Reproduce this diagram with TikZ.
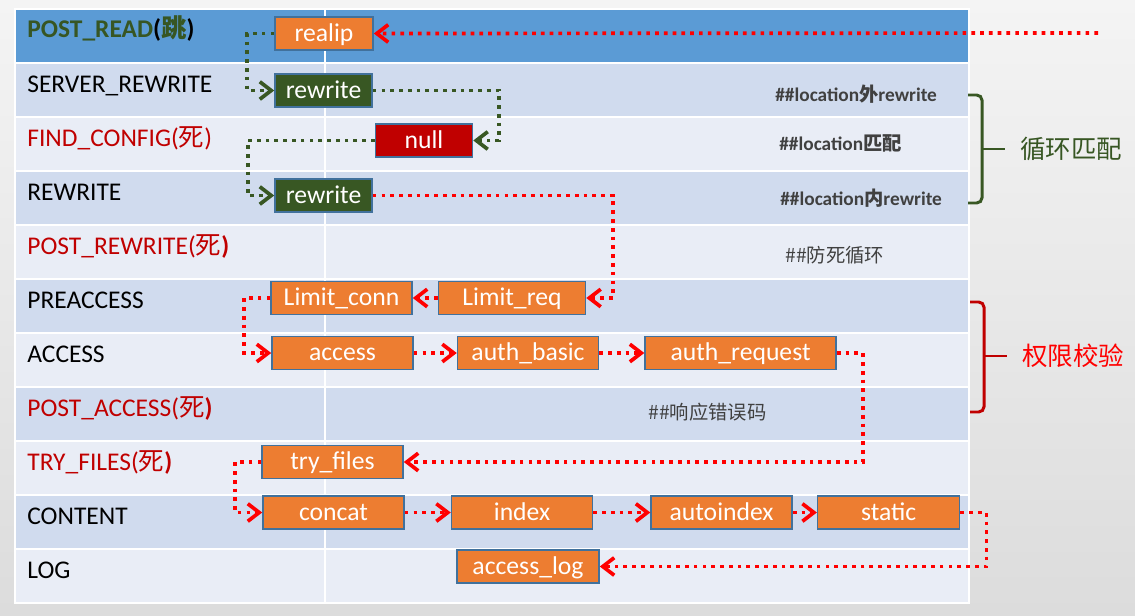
\documentclass[tikz,border=0pt]{standalone}
\usepackage{fontspec}
\setmainfont{Carlito}
\newfontfamily\cjk{Noto Sans CJK SC}
\usetikzlibrary{positioning,arrows.meta}

\definecolor{bgtop}{HTML}{F4F4F4}
\definecolor{bgbot}{HTML}{DCDCDC}
\definecolor{headblue}{HTML}{5B9BD5}
\definecolor{rowdark}{HTML}{D0DBEE}
\definecolor{rowlight}{HTML}{E9EDF6}
\definecolor{boxorange}{HTML}{ED7D31}
\definecolor{boxline}{HTML}{41719C}
\definecolor{boxgreen}{HTML}{385723}
\definecolor{boxred}{HTML}{C00000}
\definecolor{labred}{HTML}{C00000}
\definecolor{labgreen}{HTML}{375623}
\definecolor{dotred}{HTML}{FF0000}
\definecolor{notegray}{HTML}{404040}

\begin{document}
\begin{tikzpicture}[x=0.02cm,y=-0.02cm,
  box/.style = {draw=boxline, line width=0.9pt, fill=boxorange, text=white, minimum width=2.82cm, minimum height=0.66cm, inner sep=0pt, text height=9pt, text depth=0pt, font=\fontsize{14.6}{16}\selectfont},
  gbox/.style = {box, fill=boxgreen, minimum width=1.94cm},
  nbox/.style = {box, fill=boxred, minimum width=1.94cm},
  lbl/.style = {anchor=base west, inner sep=0pt, font=\fontsize{14.5}{16}\selectfont},
  note/.style = {anchor=west, inner sep=0pt, text=notegray, font=\fontsize{11}{13}\selectfont\bfseries},
  rline/.style = {draw=dotred, line width=2.1pt, dash pattern=on 2.1pt off 2.9pt, -{Straight Barb[length=6.5pt,width=10pt]}},
  gline/.style = {rline, draw=boxgreen},
  brace/.style = {line width=1.7pt, rounded corners=3pt}]

% background and table
\shade[top color=bgtop, bottom color=bgbot] (0,0) rectangle (1135,615);
\fill[white] (14,8) rectangle (970,604);
\fill[headblue] (16,10) rectangle (968,62);
\fill[rowdark] (16,64) rectangle (968,116);
\fill[rowlight] (16,118) rectangle (968,170);
\fill[rowdark] (16,172) rectangle (968,224);
\fill[rowlight] (16,226) rectangle (968,278);
\fill[rowdark] (16,280) rectangle (968,332);
\fill[rowlight] (16,334) rectangle (968,386);
\fill[rowdark] (16,388) rectangle (968,440);
\fill[rowlight] (16,442) rectangle (968,494);
\fill[rowdark] (16,496) rectangle (968,548);
\fill[rowlight] (16,550) rectangle (968,602);
\draw[white, line width=1.2pt] (325,10) -- (325,602);

% phases
\node[lbl, font=\fontsize{14.5}{16}\selectfont\bfseries] (postread) at (27,38) {\textcolor{labgreen}{POST\_READ}({\cjk\color{labgreen}跳})};
\node[lbl] (srvrw) at (27,92) {SERVER\_REWRITE};
\node[lbl, text=labred] (findcfg) at (27,146) {FIND\_CONFIG({\cjk 死})};
\node[lbl] (rewrite) at (27,200) {REWRITE};
\node[lbl, text=labred] (postrw) at (27,254) {POST\_REWRITE({\cjk 死}\textbf{)}};
\node[lbl] (preacc) at (27,308) {PREACCESS};
\node[lbl] (access) at (27,362) {ACCESS};
\node[lbl, text=labred] (postacc) at (27,416) {POST\_ACCESS({\cjk 死}\textbf{)}};
\node[lbl, text=labred] (tryfiles) at (27,470) {TRY\_FILES({\cjk 死}\textbf{)}};
\node[lbl] (content) at (27,524) {CONTENT};
\node[lbl] (log) at (27,578) {LOG};

% modules
\node[box, minimum width=1.96cm] (realip) at (324,33.5) {realip};
\node[gbox] (rwa) at (323.5,90.5) {rewrite};
\node[nbox] (null) at (424,140.5) {null};
\node[gbox] (rwb) at (323.5,195.5) {rewrite};
\node[box] (lconn) at (341.5,298) {Limit\_conn};
\node[box, minimum width=2.94cm] (lreq) at (512,298) {Limit\_req};
\node[box] (acc) at (342.5,353) {access};
\node[box] (abasic) [right=0.86cm of acc] {auth\_basic};
\node[box, minimum width=3.82cm] (areq) [right=0.9cm of abasic] {auth\_request};
\node[box] (tryf) at (332.5,462) {try\_files};
\node[box] (concat) at (333.5,512.5) {concat};
\node[box] (index) [right=0.92cm of concat] {index};
\node[box] (aindex) [right=1.14cm of index] {autoindex};
\node[box, minimum width=2.84cm] (static) [right=0.48cm of aindex] {static};
\node[box, minimum width=2.84cm] (alog) at (528,566.5) {access\_log};

% notes
\node[note] (n1) at (775,94) {\#\#location{\cjk 外}rewrite};
\node[note] (n2) at (779,143) {\#\#location{\cjk 匹配}};
\node[note] (n3) at (780,198) {\#\#location{\cjk 内}rewrite};
\node[note, font=\fontsize{11}{13}\selectfont] (n4) at (785,255) {\cjk \#\#防死循环};
\node[note, font=\fontsize{11}{13}\selectfont] (n5) at (648,412) {\cjk \#\#响应错误码};

% groups
\draw[brace, boxgreen] (968,95) -- (982,95) -- (982,203) -- (968,203);
\draw[brace, boxgreen] (982,149) -- (1005,149);
\node[text=labgreen, font=\fontsize{14.5}{16}\selectfont\cjk] (loop) at (1071,149) {循环匹配};
\draw[brace, boxred] (970,302) -- (984,302) -- (984,412) -- (970,412);
\draw[brace, boxred] (984,356) -- (1007,356);
\node[text=dotred, font=\fontsize{14.5}{16}\selectfont\cjk] (auth) at (1073,356) {权限校验};

% flow
\coordinate (in) at (1098,33);
\draw[rline] (in) -- (realip.east);
\draw[gline] (realip.west) -- ++(-27,0) |- (rwa.west);
\draw[gline] (rwa.east) -- ++(126,0) |- (null.east);
\draw[gline] (null.west) -- ++(-127,0) |- (rwb.west);
\draw[rline] (rwb.east) -- ++(240,0) |- (lreq.east);
\draw[rline] (lreq) -- (lconn);
\draw[rline] (lconn.west) -- ++(-26,0) |- (acc.west);
\draw[rline] (acc) -- (abasic);
\draw[rline] (abasic) -- (areq);
\draw[rline] (areq.east) -- ++(26,0) |- (tryf.east);
\draw[rline] (tryf.west) -- ++(-26,0) |- (concat.west);
\draw[rline] (concat) -- (index);
\draw[rline] (index) -- (aindex);
\draw[rline] (aindex) -- (static);
\draw[rline] (static.east) -- ++(26,0) |- (alog.east);
\end{tikzpicture}
\end{document}
